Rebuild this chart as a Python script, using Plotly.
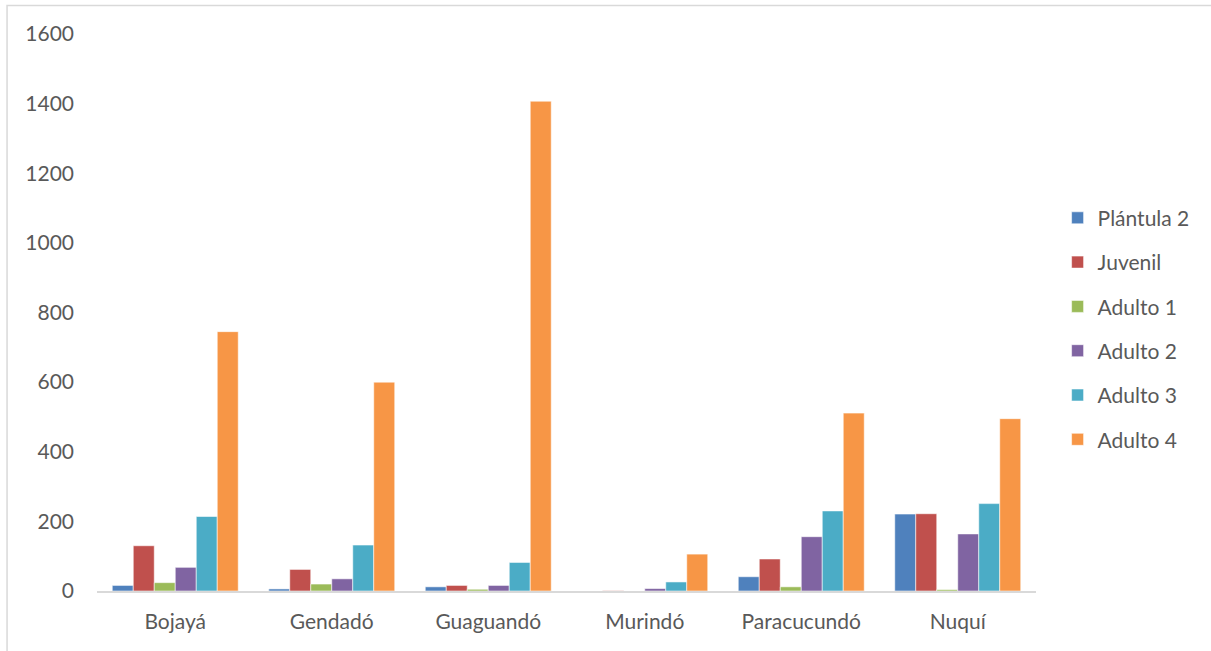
import plotly.graph_objects as go

# Municipalities on the category axis
municipios = ["Bojayá", "Gendadó", "Guaguandó", "Murindó", "Paracucundó", "Nuquí"]

# Counts per growth stage
plantula_2 = [16, 6, 12, 0, 41, 221]
juvenil = [130, 62, 16, 1, 92, 222]
adulto_1 = [24, 20, 5, 0, 12, 4]
adulto_2 = [68, 35, 16, 7, 156, 164]
adulto_3 = [214, 132, 82, 26, 230, 251]
adulto_4 = [745, 600, 1407, 106, 511, 495]

series_names = ["Plántula 2", "Juvenil", "Adulto 1", "Adulto 2", "Adulto 3", "Adulto 4"]
series_values = [plantula_2, juvenil, adulto_1, adulto_2, adulto_3, adulto_4]
series_colors = ["#4F81BD", "#C0504D", "#9BBB59", "#8064A2", "#4BACC6", "#F79646"]

y_ticks = [0, 200, 400, 600, 800, 1000, 1200, 1400, 1600]

FONT = "Lato, 'Open Sans', sans-serif"
TEXT = "#595959"

fig = go.Figure()
for name, vals, color in zip(series_names, series_values, series_colors):
    fig.add_trace(go.Bar(
        x=municipios,
        y=vals,
        name=name,
        legendgroup=name,
        marker=dict(color=color, line=dict(color="rgba(255,255,255,0.55)", width=1)),
    ))

fig.update_layout(
    width=1211,
    height=651,
    margin=dict(l=97, r=175, t=34, b=60),
    paper_bgcolor="white",
    plot_bgcolor="white",
    barmode="group",
    bargap=0.195,
    bargroupgap=0,
    font=dict(family=FONT, size=21, color=TEXT),
    showlegend=True,
    legend=dict(
        x=1.023, xanchor="left",
        y=0.471, yanchor="middle",
        tracegroupgap=14,
        font=dict(family=FONT, size=21, color=TEXT),
        bgcolor="rgba(0,0,0,0)",
    ),
    xaxis=dict(
        showgrid=False,
        showline=True,
        linecolor="#D9D9D9",
        linewidth=2,
        ticks="",
        ticklabelstandoff=11,
        tickfont=dict(family=FONT, size=21, color=TEXT),
    ),
    yaxis=dict(
        range=[0, 1600],
        tickvals=y_ticks,
        showgrid=False,
        showline=False,
        zeroline=False,
        ticks="",
        ticklabelstandoff=22,
        tickfont=dict(family=FONT, size=21, color=TEXT),
    ),
    shapes=[dict(
        type="rect", xref="paper", yref="paper",
        x0=-0.0958, x1=1.25, y0=-0.15, y1=1.0513,
        line=dict(color="#D9D9D9", width=1.5),
        fillcolor="rgba(0,0,0,0)",
        layer="below",
    )],
)

fig.write_html("out.html")
